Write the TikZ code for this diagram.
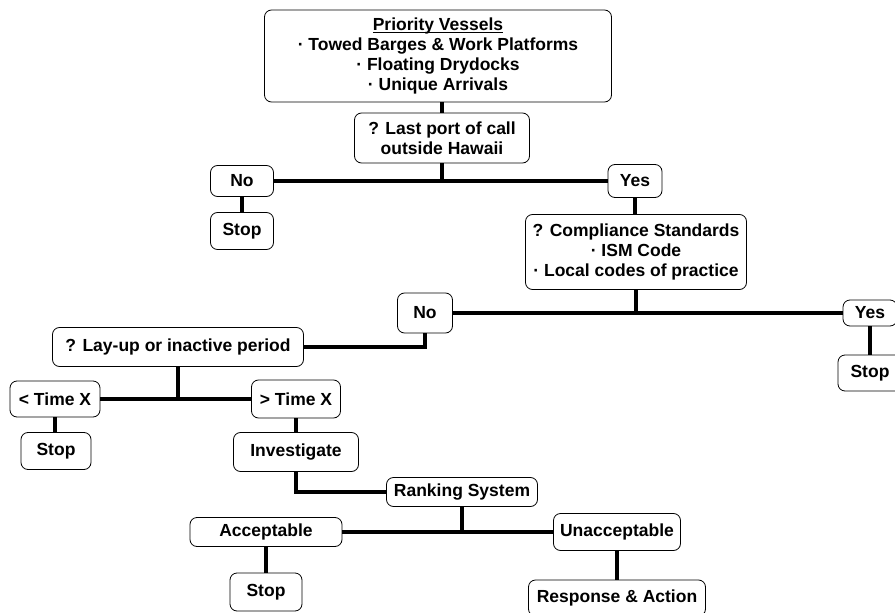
\documentclass[tikz,border=0pt]{standalone}
\usepackage{fontspec}
\setmainfont{Liberation Sans}
\newcommand\myul[1]{\setbox0\hbox{#1}\rlap{\rule[-2.6pt]{\wd0}{1.1pt}}\box0}
\begin{document}
\begin{tikzpicture}[x=1pt,y=-1pt,
  box/.style={draw, rounded corners=7pt, line width=0.8pt, inner sep=0pt, align=center,
    font=\bfseries\fontsize{17.5}{20}\selectfont},
  conn/.style={line width=3.2pt}]
\useasboundingbox (0,0) rectangle (895,613);
\node[box, minimum width=347pt, minimum height=92pt] (pri) at (438,56)
  {\myul{Priority Vessels}\\· Towed Barges \& Work Platforms\\· Floating Drydocks\\· Unique Arrivals};
\node[box, minimum width=175pt, minimum height=50pt] (lp) at (442,138) {? Last port of call\\outside Hawaii};
\node[box, minimum width=63pt, minimum height=31pt] (no1) at (242,181) {No};
\node[box, minimum width=63pt, minimum height=37pt] (stop1) at (242,231) {Stop};
\node[box, minimum width=54pt, minimum height=33pt] (yes1) at (635,181) {Yes};
\node[box, minimum width=221pt, minimum height=75pt] (comp) at (636,252) {? Compliance Standards\\· ISM Code\\· Local codes of practice};
\node[box, minimum width=55pt, minimum height=40pt] (no2) at (425,313) {No};
\node[box, minimum width=54pt, minimum height=26pt] (yes2) at (870,313) {Yes};
\node[box, minimum width=64pt, minimum height=36pt] (stop2) at (870,373) {Stop};
\node[box, minimum width=251pt, minimum height=39pt] (lay) at (178,347) {? Lay-up or inactive period};
\node[box, minimum width=90pt, minimum height=36pt] (lt) at (55,399) {< Time X};
\node[box, minimum width=89pt, minimum height=38pt] (gt) at (296,399) {> Time X};
\node[box, minimum width=70pt, minimum height=37pt] (stop3) at (56,451) {Stop};
\node[box, minimum width=125pt, minimum height=39pt] (inv) at (296,452) {Investigate};
\node[box, minimum width=151pt, minimum height=29pt] (rank) at (462,492) {Ranking System};
\node[box, minimum width=152pt, minimum height=29pt] (acc) at (266,532) {Acceptable};
\node[box, minimum width=72pt, minimum height=38pt] (stop4) at (266,592) {Stop};
\node[box, minimum width=127pt, minimum height=37pt] (unacc) at (617,532) {Unacceptable};
\node[box, minimum width=177pt, minimum height=36pt] (resp) at (617,598) {Response \& Action};
% connectors
\draw[conn] (lp.north) -- (lp.north |- pri.south);
\draw[conn] (no1.east) -- (yes1.west);
\draw[conn] (lp.south) -- (lp.south |- no1.east);
\draw[conn] (no1.south) -- (stop1.north);
\draw[conn] (yes1.south) -- (yes1.south |- comp.north);
\draw[conn] (no2.east) -- (yes2.west);
\draw[conn] (comp.south) -- (comp.south |- yes2.west);
\draw[conn] (yes2.south) -- (stop2.north);
\draw[conn] (lay.east) -- (lay.east -| no2.south) -- (no2.south);
\draw[conn] (lt.east) -- (gt.west);
\draw[conn] (lay.south) -- (lay.south |- lt.east);
\draw[conn] (lt.south) -- (lt.south |- stop3.north);
\draw[conn] (gt.south) -- (inv.north);
\draw[conn] (inv.south) -- (inv.south |- rank.west) -- (rank.west);
\draw[conn] (acc.east) -- (unacc.west);
\draw[conn] (rank.south) -- (rank.south |- acc.east);
\draw[conn] (acc.south) -- (stop4.north);
\draw[conn] (unacc.south) -- (resp.north);
\end{tikzpicture}
\end{document}
